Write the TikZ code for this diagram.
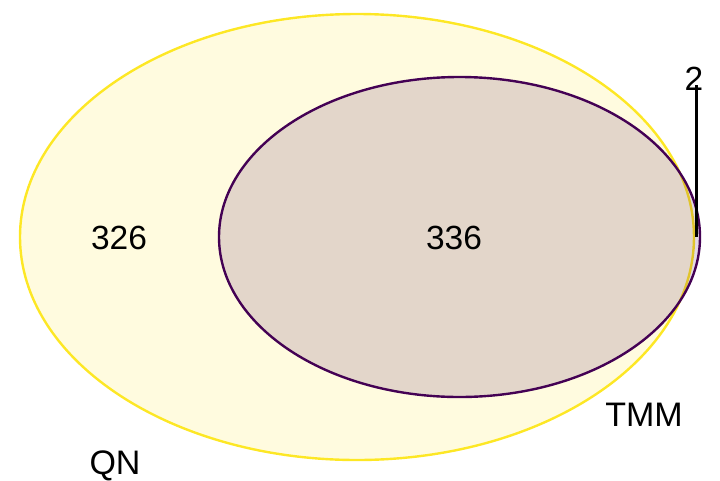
\documentclass[tikz,border=0pt]{standalone}
\usepackage{fontspec}
\setmainfont{Liberation Sans}
\usepackage{tikz}
\usetikzlibrary{positioning,calc}
\definecolor{vnyellow}{HTML}{FDE725}
\definecolor{vnpurple}{HTML}{440154}
\tikzset{
  vnset/.style={line width=2.4pt, fill opacity=0.15},
  vnqn/.style={vnset, draw=vnyellow, fill=vnyellow},
  vntmm/.style={vnset, draw=vnpurple, fill=vnpurple},
  vncount/.style={font=\fontsize{33.5}{38}\selectfont, inner sep=0pt},
  vnname/.style={font=\fontsize{34}{38}\selectfont, inner sep=0pt},
  vntick/.style={draw=black, line width=3pt},
}

\begin{document}
\begin{tikzpicture}[x=1pt,y=-1pt]
  \useasboundingbox (0,0) rectangle (720,480);
  % sets
  \filldraw[vnqn]  (357,237) ellipse [x radius=337, y radius=223];
  \filldraw[vntmm] (459.5,237) ellipse [x radius=240.5, y radius=160];
  % counts
  \node[vncount] (onlyqn) at (119,238) {326};
  \node[vncount] (both)   at (454,238) {336};
  \node[vncount] (two)    at (694,79)  {2};
  \coordinate (ticktop)  at (696,85);
  \coordinate (tickfoot) at (696,237);
  \draw[vntick] (ticktop) -- (tickfoot);
  % set names
  \node[vnname] (tmm) at (644,415) {TMM};
  \node[vnname] (qn)  at (115,466) {QN};
\end{tikzpicture}
\end{document}
